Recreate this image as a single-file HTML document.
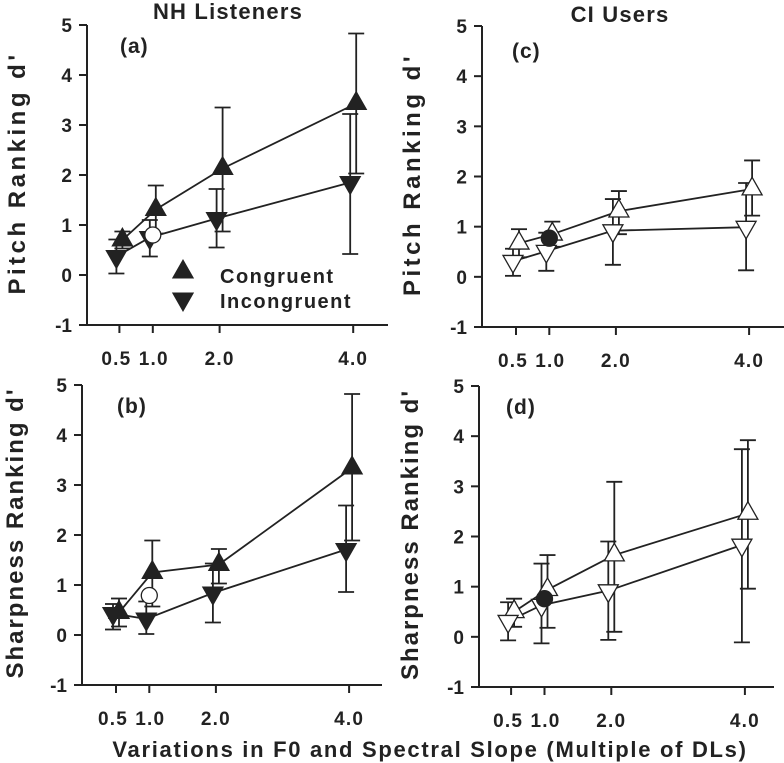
<!DOCTYPE html>
<html><head><meta charset="utf-8"><style>
html,body{margin:0;padding:0;background:#fff;}
svg{display:block;}
svg text{font-family:"Liberation Sans",Arial,sans-serif;font-weight:bold;fill:#222;}
</style></head><body>
<svg id="chart" width="784" height="763" viewBox="0 0 784 763"></svg>
<script>
const xCategories=[0.5,1.0,2.0,4.0];
const xTickLabels=["0.5","1.0","2.0","4.0"];
const yTicks=[-1,0,1,2,3,4,5];
// Panel a (NH pitch)
const aCong=[0.70,1.31,2.13,3.43];
const aCongHi=[0.87,1.79,3.35,4.83];
const aCongLo=[0.53,0.83,0.87,2.03];
const aInc=[0.37,0.75,1.13,1.85];
const aIncHi=[0.71,1.10,1.72,3.22];
const aIncLo=[0.03,0.37,0.55,0.42];
const aCircle=0.80;
// Panel b (NH sharpness)
const bCong=[0.45,1.25,1.41,3.34];
const bCongHi=[0.73,1.89,1.72,4.82];
const bCongLo=[0.17,0.57,1.03,1.89];
const bInc=[0.43,0.32,0.84,1.71];
const bIncHi=[0.62,0.67,1.43,2.59];
const bIncLo=[0.11,0.02,0.25,0.86];
const bCircle=0.79;
// Panel c (CI pitch)
const cCong=[0.67,0.85,1.31,1.75];
const cCongHi=[0.95,1.10,1.71,2.32];
const cCongLo=[0.39,0.60,0.85,1.22];
const cInc=[0.31,0.51,0.92,0.99];
const cIncHi=[0.56,0.88,1.55,1.87];
const cIncLo=[0.02,0.12,0.24,0.13];
const cCircle=0.77;
// Panel d (CI sharpness)
const dCong=[0.50,0.94,1.63,2.46];
const dCongHi=[0.76,1.63,3.09,3.92];
const dCongLo=[0.20,0.18,0.10,0.96];
const dInc=[0.31,0.63,0.92,1.83];
const dIncHi=[0.69,1.46,1.90,3.74];
const dIncLo=[-0.07,-0.13,-0.06,-0.11];
const dCircle=0.76;

const svg=document.getElementById('chart');
const NS='http://www.w3.org/2000/svg';
function mk(tag,attrs,parent){const e=document.createElementNS(NS,tag);for(const k in attrs)e.setAttribute(k,attrs[k]);(parent||svg).appendChild(e);return e;}
function txt(x,y,s,size,anchor,parent,name,ls){const t=mk('text',{x:x,y:y,'font-size':size,'font-weight':'bold','text-anchor':anchor||'middle','letter-spacing':ls||0},parent);t.textContent=s;


return t;}

function tri(g,cx,cy,up,filled,name){
  const w=10,h=9;
  const pts=up?`${cx-w},${cy+h*0.65} ${cx+w},${cy+h*0.65} ${cx},${cy-h*1.3}`:`${cx-w},${cy-h*0.65} ${cx+w},${cy-h*0.65} ${cx},${cy+h*1.3}`;
  const p=mk('polygon',{points:pts,fill:filled?'#222':'#fff',stroke:'#222','stroke-width':1.3},g);
  
  
}

function panel(o){
  const g=mk('g',{});
  
  
  const X=v=>o.x0+o.xs*v;
  const Y=v=>o.y5+(5-v)*(o.yM1-o.y5)/6;
  mk('line',{x1:o.ax,y1:o.y5,x2:o.ax,y2:o.yM1,stroke:'#222','stroke-width':2},g);
  mk('line',{x1:o.ax-1,y1:o.yM1,x2:o.xend,y2:o.yM1,stroke:'#222','stroke-width':2},g);
  yTicks.forEach(t=>{
    mk('line',{x1:o.ax-8,y1:Y(t),x2:o.ax,y2:Y(t),stroke:'#222','stroke-width':2},g);
    txt(o.ax-15,Y(t)+7,String(t),19,'end',g,'y-tick-label');
  });
  xCategories.forEach((c,i)=>{
    mk('line',{x1:X(c),y1:o.yM1,x2:X(c),y2:o.yM1+8,stroke:'#222','stroke-width':2},g);
    txt(X(c)+(i===0?-3:i===1?1:0),o.yM1+40,xTickLabels[i],19,'middle',g,'x-tick-label',1.2);
  });
  const series=[[o.cong,o.congHi,o.congLo,3,true],[o.inc,o.incHi,o.incLo,-3,false]];
  series.forEach(s=>{
    const pts=xCategories.map((c,i)=>`${X(c)+s[3]},${Y(s[0][i])}`).join(' ');
    const l=mk('polyline',{points:pts,fill:'none',stroke:'#222','stroke-width':1.8},g);
    
    xCategories.forEach((c,i)=>{
      const x=X(c)+s[3];
      mk('line',{x1:x,y1:Y(s[1][i]),x2:x,y2:Y(s[2][i]),stroke:'#222','stroke-width':1.8},g);
      mk('line',{x1:x-8,y1:Y(s[1][i]),x2:x+8,y2:Y(s[1][i]),stroke:'#222','stroke-width':1.8},g);
      mk('line',{x1:x-8,y1:Y(s[2][i]),x2:x+8,y2:Y(s[2][i]),stroke:'#222','stroke-width':1.8},g);
    });
  });
  series.forEach(s=>{
    xCategories.forEach((c,i)=>tri(g,X(c)+s[3],Y(s[0][i]),s[4],o.filled,s[4]?'congruent-marker':'incongruent-marker'));
  });
  const ci=mk('circle',{cx:X(1.0),cy:Y(o.circle),r:8,fill:o.filled?'#fff':'#222',stroke:'#222','stroke-width':1.3},g);
  
  txt(o.lx,o.ly,o.label,21,'start',g,'panel-label',1);
  const yt=txt(0,0,o.ytitle,24,'middle',g,'y-axis-title',o.yls);
  yt.setAttribute('transform',`translate(${o.ytx},${(o.y5+o.yM1)/2-2}) rotate(-90)`);
  return {X,Y,g};
}

panel({name:'panel-a',ax:87,y5:25,yM1:325,x0:86,xs:66.8,xend:388,cong:aCong,congHi:aCongHi,congLo:aCongLo,inc:aInc,incHi:aIncHi,incLo:aIncLo,circle:aCircle,filled:true,label:'(a)',lx:120,ly:53,ytitle:"Pitch Ranking d'",ytx:25,yls:3.5});
panel({name:'panel-b',ax:82,y5:385,yM1:685,x0:82.7,xs:66.6,xend:382,cong:bCong,congHi:bCongHi,congLo:bCongLo,inc:bInc,incHi:bIncHi,incLo:bIncLo,circle:bCircle,filled:true,label:'(b)',lx:117,ly:413,ytitle:"Sharpness Ranking d'",ytx:23,yls:2});
panel({name:'panel-c',ax:482,y5:26,yM1:327,x0:482.7,xs:66.6,xend:784,cong:cCong,congHi:cCongHi,congLo:cCongLo,inc:cInc,incHi:cIncHi,incLo:cIncLo,circle:cCircle,filled:false,label:'(c)',lx:512,ly:58,ytitle:"Pitch Ranking d'",ytx:420,yls:3.5});
panel({name:'panel-d',ax:479,y5:386,yM1:687,x0:477.7,xs:66.8,xend:774,cong:dCong,congHi:dCongHi,congLo:dCongLo,inc:dInc,incHi:dIncHi,incLo:dIncLo,circle:dCircle,filled:false,label:'(d)',lx:506,ly:414,ytitle:"Sharpness Ranking d'",ytx:418,yls:2});

txt(228,19,'NH Listeners',22,'middle',svg,'nh-title',1.2);
txt(620,22,'CI Users',22,'middle',svg,'ci-title',1.2);
txt(430,757,'Variations in F0 and Spectral Slope (Multiple of DLs)',22,'middle',svg,'x-axis-title',1.7);

const lg=mk('g',{});


tri(lg,183,272,true,true,'legend-congruent-marker');
tri(lg,183,299,false,true,'legend-incongruent-marker');
txt(220,283,'Congruent',20,'start',lg,'legend-congruent-label',1.5);
txt(220,308,'Incongruent',20,'start',lg,'legend-incongruent-label',1.5);
</script>
</body></html>
